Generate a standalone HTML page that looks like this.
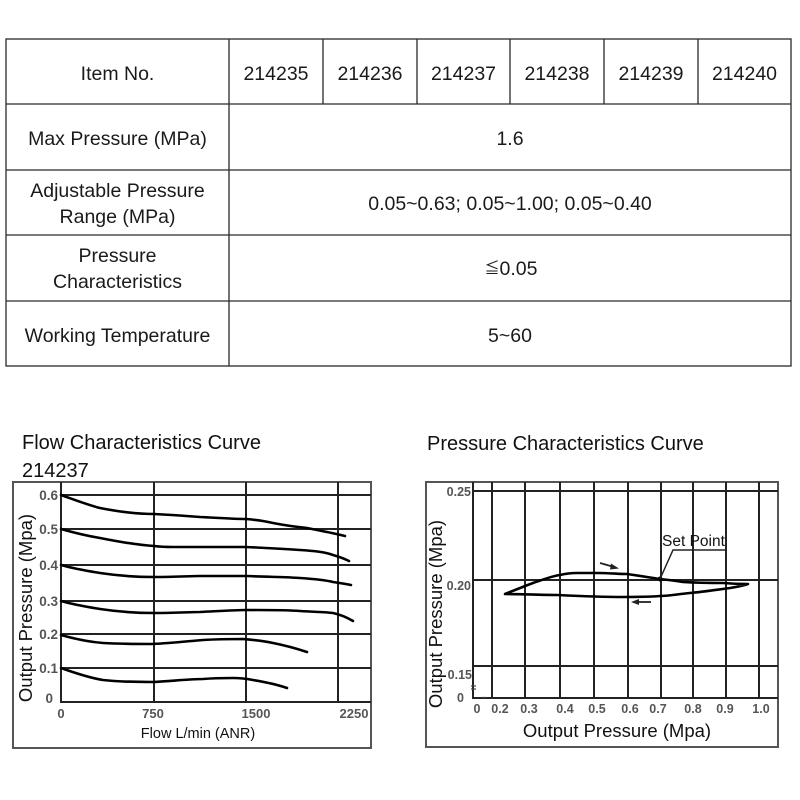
<!DOCTYPE html>
<html>
<head>
<meta charset="utf-8">
<style>
html,body{margin:0;padding:0;background:#fff;}
svg{display:block;}
text{font-family:"Liberation Sans","Noto Sans CJK JP",sans-serif;}
</style>
</head>
<body>
<svg width="800" height="800" viewBox="0 0 800 800" xmlns="http://www.w3.org/2000/svg">
<rect width="800" height="800" fill="#fff"/>

<!-- TABLE -->
<g stroke="#2a2a2a" stroke-width="1.3" fill="none">
  <rect x="6" y="39" width="785" height="327"/>
  <line x1="6" y1="104" x2="791" y2="104"/>
  <line x1="6" y1="170" x2="791" y2="170"/>
  <line x1="6" y1="235" x2="791" y2="235"/>
  <line x1="6" y1="301" x2="791" y2="301"/>
  <line x1="229" y1="39" x2="229" y2="366"/>
  <line x1="323" y1="39" x2="323" y2="104"/>
  <line x1="417" y1="39" x2="417" y2="104"/>
  <line x1="510" y1="39" x2="510" y2="104"/>
  <line x1="604" y1="39" x2="604" y2="104"/>
  <line x1="698" y1="39" x2="698" y2="104"/>
</g>
<g font-size="19.5" fill="#1a1a1a" text-anchor="middle">
  <text x="117.5" y="80">Item No.</text>
  <text x="276" y="80">214235</text>
  <text x="370" y="80">214236</text>
  <text x="463.5" y="80">214237</text>
  <text x="557" y="80">214238</text>
  <text x="651" y="80">214239</text>
  <text x="744.5" y="80">214240</text>
  <text x="117.5" y="145">Max Pressure (MPa)</text>
  <text x="510" y="145">1.6</text>
  <text x="117.5" y="197">Adjustable Pressure</text>
  <text x="117.5" y="223">Range (MPa)</text>
  <text x="510" y="210">0.05~0.63; 0.05~1.00; 0.05~0.40</text>
  <text x="117.5" y="262">Pressure</text>
  <text x="117.5" y="288">Characteristics</text>
  <text x="511" y="275"><tspan font-size="15" dy="-2">≦</tspan><tspan dy="2">0.05</tspan></text>
  <text x="117.5" y="342">Working Temperature</text>
  <text x="510" y="342">5~60</text>
</g>

<!-- LEFT CHART -->
<text x="22" y="449" font-size="20" fill="#111">Flow Characteristics Curve</text>
<text x="22" y="477" font-size="20" fill="#111">214237</text>
<rect x="13" y="482" width="358" height="266" fill="none" stroke="#555" stroke-width="2"/>
<g stroke="#222" stroke-width="2">
  <line x1="61" y1="495" x2="371" y2="495"/>
  <line x1="61" y1="529" x2="371" y2="529"/>
  <line x1="61" y1="565" x2="371" y2="565"/>
  <line x1="61" y1="601" x2="371" y2="601"/>
  <line x1="61" y1="634" x2="371" y2="634"/>
  <line x1="61" y1="668" x2="371" y2="668"/>
  <line x1="60" y1="702" x2="371" y2="702"/>
  <line x1="61" y1="482" x2="61" y2="703"/>
  <line x1="154" y1="482" x2="154" y2="703"/>
  <line x1="246" y1="482" x2="246" y2="703"/>
  <line x1="338" y1="482" x2="338" y2="703"/>
</g>
<g fill="none" stroke="#000" stroke-width="2.6" stroke-linejoin="round" stroke-linecap="round">
  <path d="M61,495 C75,500 88,505 100,508 C120,512 137,514 154,514 C175,515 188,516 200,517 C220,518 235,519 246,519 C258,520 265,521 273,523 C288,526 298,527 307,528 C322,531 333,533 345,536"/>
  <path d="M61,529 C75,533 88,536 100,538 C120,542 138,545 154,546 C162,547 167,547 173,547 C200,547 225,547 246,547 C268,548 285,549 300,550 C315,551 325,552 333,555 C340,557 345,559 349,561"/>
  <path d="M61,565 C75,569 88,571 100,573 C120,576 138,577 154,577 C175,577 190,576 200,576 C220,576 235,576 246,576 C270,577 287,577 300,578 C315,579 325,580 333,582 C340,583 346,584 351,585"/>
  <path d="M61,601 C75,605 88,607 100,609 C120,612 138,613 154,613 C175,613 190,612 200,612 C220,611 235,610 246,610 C270,610 287,610 300,611 C315,612 325,612 333,613 C342,615 348,618 353,621"/>
  <path d="M61,635 C75,639 90,642 103,643 C120,644 138,644 153,644 C172,643 190,641 203,640 C220,639 235,639 243,639 C255,640 264,641 273,643 C288,646 298,649 307,652"/>
  <path d="M61,668 C75,673 90,678 103,680 C120,682 138,682 153,682 C172,681 190,679 203,679 C215,678 225,678 233,678 C242,678 248,679 253,680 C265,682 276,684 287,688"/>
</g>
<g font-size="13.5" font-weight="bold" fill="#555" text-anchor="end">
  <text x="58" y="500">0.6</text>
  <text x="58" y="534">0.5</text>
  <text x="58" y="570">0.4</text>
  <text x="58" y="606">0.3</text>
  <text x="58" y="639">0.2</text>
  <text x="58" y="673">0.1</text>
  <text x="53" y="703">0</text>
</g>
<g font-size="13" font-weight="bold" fill="#555" text-anchor="middle">
  <text x="61" y="718">0</text>
  <text x="153" y="718">750</text>
  <text x="256" y="718">1500</text>
  <text x="354" y="718">2250</text>
</g>
<text x="198" y="738" font-size="14.5" fill="#111" text-anchor="middle">Flow L/min (ANR)</text>
<text transform="translate(32,608) rotate(-90)" font-size="18.5" fill="#111" text-anchor="middle">Output Pressure (Mpa)</text>

<!-- RIGHT CHART -->
<text x="427" y="450" font-size="20" fill="#111">Pressure Characteristics Curve</text>
<rect x="426" y="482" width="352" height="265" fill="none" stroke="#555" stroke-width="2"/>
<g stroke="#222" stroke-width="2">
  <line x1="473" y1="491" x2="778" y2="491"/>
  <line x1="473" y1="580" x2="778" y2="580"/>
  <line x1="473" y1="666" x2="778" y2="666"/>
  <line x1="472" y1="698" x2="778" y2="698"/>
  <line x1="473" y1="482" x2="473" y2="699"/>
  <line x1="492" y1="482" x2="492" y2="699"/>
  <line x1="525" y1="482" x2="525" y2="699"/>
  <line x1="560" y1="482" x2="560" y2="699"/>
  <line x1="594" y1="482" x2="594" y2="699"/>
  <line x1="628" y1="482" x2="628" y2="699"/>
  <line x1="661" y1="482" x2="661" y2="699"/>
  <line x1="693" y1="482" x2="693" y2="699"/>
  <line x1="726" y1="482" x2="726" y2="699"/>
  <line x1="759" y1="482" x2="759" y2="699"/>
</g>
<!-- hysteresis loop -->
<path d="M505,594 C515,590 525,586 533,583 C545,579 552,576 560,575 C568,573 572,573 577,573 C585,573 590,573 597,573 C610,573 618,574 627,574 C642,576 652,578 660,579 C670,580 676,581 683,582 C700,583 712,583 723,583 C735,584 742,584 748,584 C742,586 736,587 730,588 C715,590 702,592 690,593 C678,594 670,596 660,596 C648,597 635,597 623,597 C600,597 578,596 557,595 C540,595 520,594 505,594 Z" fill="none" stroke="#000" stroke-width="2.6" stroke-linejoin="round"/>
<circle cx="660" cy="579" r="2.5" fill="#000"/>
<!-- set point leader -->
<polyline points="660,579 673,550 725,550" fill="none" stroke="#222" stroke-width="1.5"/>
<text x="662" y="546" font-size="15.5" fill="#111">Set Point</text>
<!-- arrows -->
<g stroke="#222" stroke-width="1.8" fill="#222">
  <line x1="600" y1="563" x2="614" y2="567"/>
  <polygon points="619,568.5 611,563.5 610,569.5" stroke="none"/>
  <line x1="651" y1="602" x2="637" y2="602"/>
  <polygon points="631,602 639,599 639,605" stroke="none"/>
</g>
<g font-size="12.5" font-weight="bold" fill="#555" text-anchor="end">
  <text x="471" y="496">0.25</text>
  <text x="471" y="590">0.20</text>
  <text x="472" y="679">0.15</text>
  <text x="464" y="702">0</text>
</g>
<g stroke="#444" stroke-width="1.2">
  <line x1="471" y1="686" x2="476" y2="686"/>
  <line x1="471" y1="689" x2="476" y2="689"/>
</g>
<text x="484" y="700" font-size="8" font-weight="bold" fill="#555" text-anchor="middle">··</text>
<g font-size="12.5" font-weight="bold" fill="#555" text-anchor="middle">
  <text x="477" y="713">0</text>
  <text x="500" y="713">0.2</text>
  <text x="529" y="713">0.3</text>
  <text x="565" y="713">0.4</text>
  <text x="597" y="713">0.5</text>
  <text x="630" y="713">0.6</text>
  <text x="658" y="713">0.7</text>
  <text x="693" y="713">0.8</text>
  <text x="725" y="713">0.9</text>
  <text x="761" y="713">1.0</text>
</g>
<text x="617" y="737" font-size="18.5" fill="#111" text-anchor="middle">Output Pressure (Mpa)</text>
<text transform="translate(442,614) rotate(-90)" font-size="18.5" fill="#111" text-anchor="middle">Output Pressure (Mpa)</text>
</svg>
</body>
</html>
